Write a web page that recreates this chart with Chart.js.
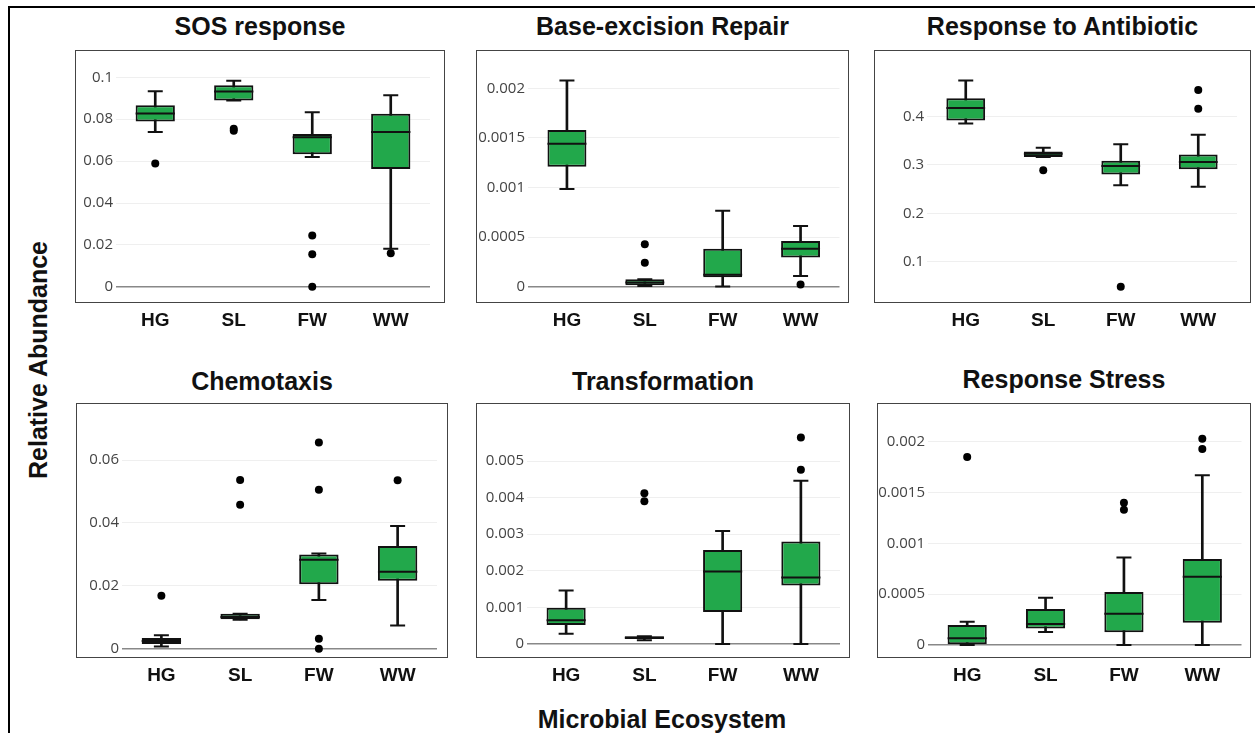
<!DOCTYPE html>
<html>
<head>
<meta charset="utf-8">
<title>Functional categories by microbial ecosystem</title>
<script src="https://cdn.jsdelivr.net/npm/chart.js@4.4.1/dist/chart.umd.min.js"></script>
<style>
	body { margin: 0; background: #fff; width: 1255px; height: 733px; position: relative; overflow: hidden; font-family: "Liberation Sans", Arial, sans-serif; color: #111; }
	.outer { position: absolute; left: 8px; top: 6px; right: 0; bottom: 0; border-top: 2px solid #000; border-left: 2px solid #000; }
	.frame { position: absolute; box-sizing: border-box; border: 1.5px solid #444; pointer-events: none; }
	.plot { position: absolute; }
	.title { position: absolute; font-weight: bold; font-size: 25px; line-height: 30px; text-align: center; white-space: nowrap; }
	.ytitle { position: absolute; left: 38px; top: 360px; font-weight: bold; font-size: 25px; white-space: nowrap; transform: translate(-50%, -50%) rotate(-90deg); }
	.xtitle { position: absolute; left: 662px; top: 719px; font-weight: bold; font-size: 25px; white-space: nowrap; transform: translate(-50%, -50%); }
</style>
</head>
<body>
<div class="outer"></div>
<div id="panels"></div>
<div class="ytitle">Relative Abundance</div>
<div class="xtitle">Microbial Ecosystem</div>
<script>
const categories = ['HG', 'SL', 'FW', 'WW'];

// box stats per category: [lower whisker, q1, median, q3, upper whisker]
const sosStats = [
	[0.0739, 0.0789, 0.0827, 0.0867, 0.0933],
	[0.0889, 0.0889, 0.0932, 0.0962, 0.0983],
	[0.0620, 0.0633, 0.0714, 0.0729, 0.0833],
	[0.0182, 0.0562, 0.0739, 0.0826, 0.0914]
];
const sosOutliers = [[0.0589], [0.0755, 0.0745], [0.0245, 0.0156, 0], [0.0160]];
const sosTicks = [0, 0.02, 0.04, 0.06, 0.08, 0.1];
const sosRange = [-0.0077, 0.1073];

const berStats = [
	[0.000985, 0.00121, 0.00144, 0.00158, 0.00208],
	[0.000005, 0.000013, 0.00004, 0.000074, 0.000074],
	[0, 0.000093, 0.000119, 0.000382, 0.000766],
	[0.000106, 0.000292, 0.000382, 0.000459, 0.00061]
];
const berOutliers = [[], [0.000427, 0.00024], [], [0.00002]];
const berTicks = [0, 0.0005, 0.001, 0.0015, 0.002];
const berRange = [-0.000166, 0.002266];

const abxStats = [
	[0.3855, 0.392, 0.418, 0.438, 0.4748],
	[0.3165, 0.3165, 0.323, 0.3278, 0.3356],
	[0.258, 0.2805, 0.298, 0.3087, 0.343],
	[0.255, 0.291, 0.306, 0.3219, 0.3626]
];
const abxOutliers = [[], [0.289], [0.0482], [0.455, 0.416]];
const abxTicks = [0.1, 0.2, 0.3, 0.4];
const abxRange = [0.0148, 0.5128];

const chemStats = [
	[0.0007, 0.0015, 0.0025, 0.0034, 0.0043],
	[0.0092, 0.0094, 0.0101, 0.0111, 0.0111],
	[0.0155, 0.0205, 0.0283, 0.0300, 0.0303],
	[0.0074, 0.0216, 0.0245, 0.0327, 0.0390]
];
const chemOutliers = [[0.01685], [0.0537, 0.0458], [0.0656, 0.0506, 0.0032, 0], [0.0536]];
const chemTicks = [0, 0.02, 0.04, 0.06];
const chemRange = [-0.00294, 0.07433];

const transStats = [
	[0.000277, 0.00052, 0.00065, 0.00099, 0.00146],
	[0.000104, 0.000138, 0.00017, 0.000208, 0.000208],
	[0, 0.000876, 0.00198, 0.00257, 0.00309],
	[0, 0.0016, 0.00182, 0.0028, 0.00446]
];
const transOutliers = [[], [0.00412, 0.0039], [], [0.00564, 0.00476]];
const transTicks = [0, 0.001, 0.002, 0.003, 0.004, 0.005];
const transRange = [-0.000383, 0.006258];

const stressStats = [
	[0, 0, 0.0000657, 0.000197, 0.000228],
	[0.000128, 0.000162, 0.000206, 0.000353, 0.000465],
	[0, 0.000125, 0.000306, 0.000522, 0.00086],
	[0, 0.000219, 0.000672, 0.000847, 0.00167]
];
const stressOutliers = [[0.00185], [], [0.0014, 0.00133], [0.00203, 0.00193]];
const stressTicks = [0, 0.0005, 0.001, 0.0015, 0.002];
const stressRange = [-0.0001285, 0.002264];

const titles = ['SOS response', 'Base-excision Repair', 'Response to Antibiotic', 'Chemotaxis', 'Transformation', 'Response Stress'];

const panels = [
	{ stats: sosStats, outliers: sosOutliers, ticks: sosTicks, range: sosRange },
	{ stats: berStats, outliers: berOutliers, ticks: berTicks, range: berRange },
	{ stats: abxStats, outliers: abxOutliers, ticks: abxTicks, range: abxRange },
	{ stats: chemStats, outliers: chemOutliers, ticks: chemTicks, range: chemRange },
	{ stats: transStats, outliers: transOutliers, ticks: transTicks, range: transRange },
	{ stats: stressStats, outliers: stressOutliers, ticks: stressTicks, range: stressRange }
];

// page layout: frame box, y-axis width inside frame, right gap inside frame, title centre y
const layout = [
	{ l: 75, t: 50, r: 445, b: 303, yW: 41, pR: 15, ty: 26 },
	{ l: 476, t: 50, r: 849, b: 303, yW: 52, pR: 7, ty: 26 },
	{ l: 874, t: 50, r: 1251, b: 303, yW: 53, pR: 14, ty: 26 },
	{ l: 76, t: 403, r: 448, b: 658, yW: 46, pR: 11, ty: 381 },
	{ l: 476, t: 403, r: 850, b: 658, yW: 51, pR: 10, ty: 381 },
	{ l: 877, t: 403, r: 1251, b: 658, yW: 51, pR: 8, ty: 379 }
];

const GREEN = '#22a84b';
const INK = '#111';
const X_AXIS_H = 40;

// half of the box width (box = half a category), for the median stroke
function halfBox(ctx) {
	return ctx.chart.scales.x.width / categories.length / 4;
}

function buildChart(p, box, title) {
	const host = document.getElementById('panels');
	const w = box.r - box.l;
	const h = box.b - box.t;

	const t = document.createElement('div');
	t.className = 'title';
	t.textContent = title;
	t.style.left = box.l + 'px';
	t.style.width = w + 'px';
	t.style.top = (box.ty - 15) + 'px';
	host.appendChild(t);

	const canvas = document.createElement('canvas');
	canvas.className = 'plot';
	canvas.width = w;
	canvas.height = h + X_AXIS_H;
	canvas.style.left = box.l + 'px';
	canvas.style.top = box.t + 'px';
	host.appendChild(canvas);

	const frame = document.createElement('div');
	frame.className = 'frame';
	frame.style.left = box.l + 'px';
	frame.style.top = box.t + 'px';
	frame.style.width = w + 'px';
	frame.style.height = h + 'px';
	host.appendChild(frame);

	const outlierPts = [];
	p.outliers.forEach(function(list, i) {
		list.forEach(function(v) { outlierPts.push({ x: categories[i], y: v }); });
	});

	const capStyle = {
		type: 'line',
		showLine: false,
		pointStyle: 'line',
		pointRadius: 7.5,
		pointBorderWidth: 2,
		pointBorderColor: INK,
		order: 3
	};

	new Chart(canvas, {
		type: 'bar',
		data: {
			labels: categories,
			datasets: [
				// whisker stem, drawn underneath the box
				{ type: 'bar', data: p.stats.map(s => [s[0], s[4]]), backgroundColor: INK, barThickness: 2, grouped: false, order: 5 },
				// box q1..q3
				{ type: 'bar', data: p.stats.map(s => [s[1], s[3]]), backgroundColor: GREEN, borderColor: INK, borderWidth: 2, borderSkipped: false, barPercentage: 0.5, categoryPercentage: 1, grouped: false, order: 4 },
				Object.assign({ data: p.stats.map(s => s[0]) }, capStyle),
				Object.assign({ data: p.stats.map(s => s[4]) }, capStyle),
				// median
				{ type: 'line', data: p.stats.map(s => s[2]), showLine: false, pointStyle: 'line', pointRadius: halfBox, pointBorderWidth: 2, pointBorderColor: INK, order: 2 },
				{ type: 'line', data: outlierPts, showLine: false, pointRadius: 4, pointBackgroundColor: '#000', pointBorderWidth: 0, order: 1 }
			]
		},
		options: {
			responsive: false,
			animation: false,
			layout: { padding: { left: 0, right: box.pR, top: 0, bottom: 0 } },
			plugins: { legend: { display: false }, tooltip: { enabled: false } },
			scales: {
				x: {
					offset: true,
					grid: { display: false, drawTicks: false },
					border: { display: false },
					ticks: { color: INK, padding: 6, font: { family: 'Liberation Sans', weight: 'bold', size: 19 } },
					afterFit: function(s) { s.height = X_AXIS_H; }
				},
				y: {
					min: p.range[0],
					max: p.range[1],
					afterBuildTicks: function(s) { s.ticks = p.ticks.map(v => ({ value: v })); },
					grid: {
						drawTicks: false,
						color: ctx => (ctx.tick && ctx.tick.value === 0) ? '#888' : '#efefef',
						lineWidth: ctx => (ctx.tick && ctx.tick.value === 0) ? 1.5 : 1
					},
					border: { display: false },
					ticks: { color: '#444', padding: 3, font: { family: 'Open Sans', size: 15 }, callback: v => String(v) },
					afterFit: function(s) { s.width = box.yW; }
				}
			}
		}
	});
}

panels.forEach(function(p, i) { buildChart(p, layout[i], titles[i]); });
</script>
</body>
</html>
